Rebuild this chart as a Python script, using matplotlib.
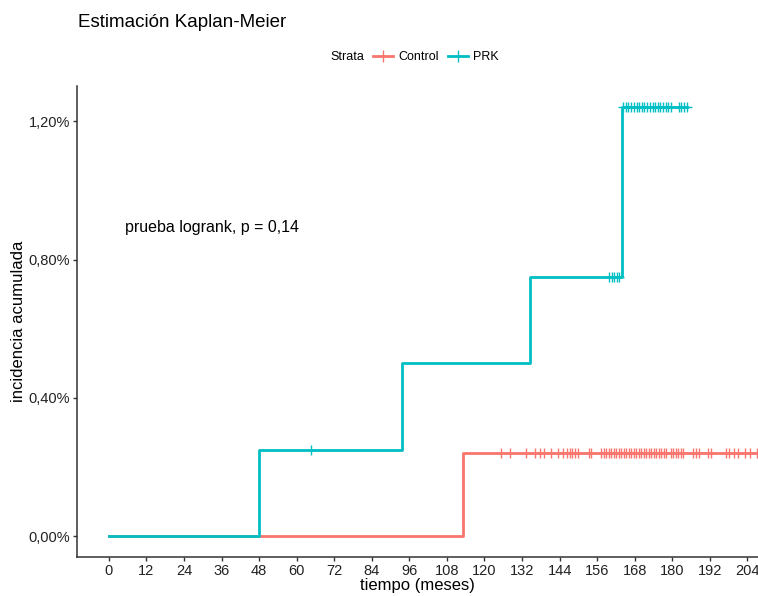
import matplotlib.pyplot as plt
from matplotlib.lines import Line2D

plt.rcParams['font.family'] = ['Liberation Sans', 'DejaVu Sans']

COL_CONTROL = '#F8766D'
COL_PRK = '#00BFC4'

# curvas Kaplan-Meier (incidencia acumulada en %)
prk_t = [0, 48, 93.5, 134.5, 164, 184.6]
prk_y = [0, 0.25, 0.50, 0.75, 1.24, 1.24]
control_t = [0, 113, 210]
control_y = [0, 0.24, 0.24]

# censuras
prk_cens_t = [64.6,
              159.9, 160.7, 161.5, 162.3, 163.1,
              164.4, 165.2, 166.0, 166.9, 167.7, 168.6, 169.4, 170.3, 171.1,
              172.0, 172.8, 173.7, 174.5, 175.4, 176.2, 177.1, 177.9, 178.8,
              179.6, 182.0, 182.9, 183.8, 184.6]
prk_cens_y = [0.25,
              0.75, 0.75, 0.75, 0.75, 0.75,
              1.24, 1.24, 1.24, 1.24, 1.24, 1.24, 1.24, 1.24, 1.24,
              1.24, 1.24, 1.24, 1.24, 1.24, 1.24, 1.24, 1.24, 1.24,
              1.24, 1.24, 1.24, 1.24, 1.24]
control_cens_t = [125.3, 128.2, 133.3, 136.0, 137.6, 139.0, 141.3, 143.5,
                  145.1, 146.3, 147.2, 148.1, 148.9, 149.9, 153.4, 154.1,
                  157.3, 158.1, 158.9, 159.7, 160.5, 161.3, 162.1, 162.9,
                  163.7, 164.5, 165.3, 166.1, 166.9, 167.7, 168.5, 169.3,
                  170.1, 170.9, 171.7, 172.5, 173.3, 174.1, 174.9, 175.7,
                  176.5, 177.3, 178.1, 179.5, 180.3, 181.1, 181.9, 182.7,
                  183.5, 186.6, 187.5, 188.7, 191.5, 192.3, 197.2, 198.1,
                  199.7, 201.0, 203.2, 205.0, 207.0]

x_ticks = [0, 12, 24, 36, 48, 60, 72, 84, 96, 108, 120, 132, 144, 156, 168, 180, 192, 204]
y_ticks = [0.0, 0.4, 0.8, 1.2]
y_labels = ['0,00%', '0,40%', '0,80%', '1,20%']

fig = plt.figure(figsize=(7.58, 5.96), dpi=100)
ax = fig.add_axes([0.1016, 0.0654, 0.8984, 0.7903])

ax.step(control_t, control_y, where='post', color=COL_CONTROL, lw=2, zorder=3)
ax.plot(control_cens_t, [0.24] * len(control_cens_t), ls='none', marker='+',
        ms=7, mew=1, color=COL_CONTROL, zorder=3)
ax.step(prk_t, prk_y, where='post', color=COL_PRK, lw=2, zorder=4)
ax.plot(prk_cens_t, prk_cens_y, ls='none', marker='+',
        ms=7, mew=1, color=COL_PRK, zorder=4)

ax.text(5.1, 0.892, 'prueba logrank, p = 0,14', fontsize=11.5,
        ha='left', va='center', color='black')

ax.set_xlim(-10.2, 207.4)
ax.set_ylim(-0.0607, 1.302)
ax.set_xticks(x_ticks)
ax.set_yticks(y_ticks)
ax.set_yticklabels(y_labels)
ax.tick_params(labelsize=10.5, colors='#333333', length=3, width=1,
               pad=2, labelcolor='#222222')
for s in ['top', 'right']:
    ax.spines[s].set_visible(False)
for s in ['left', 'bottom']:
    ax.spines[s].set_color('#333333')
    ax.spines[s].set_linewidth(1.1)

ax.set_xlabel('tiempo (meses)', fontsize=12, labelpad=0)
ax.set_ylabel('incidencia acumulada', fontsize=12, labelpad=2)

fig.text(0.103, 0.963, 'Estimación Kaplan-Meier', fontsize=13.5,
         ha='left', va='center')
fig.text(0.436, 0.904, 'Strata', fontsize=9, ha='left', va='center')
handles = [Line2D([], [], color=COL_CONTROL, marker='+', ms=8, lw=2),
           Line2D([], [], color=COL_PRK, marker='+', ms=8, lw=2)]
fig.legend(handles, ['Control', 'PRK'], loc='center left',
           bbox_to_anchor=(0.492, 0.904), ncol=2, frameon=False,
           fontsize=9, handlelength=1.6, handletextpad=0.4,
           columnspacing=0.8, borderaxespad=0, borderpad=0)

fig.savefig('out.png', dpi=100)
